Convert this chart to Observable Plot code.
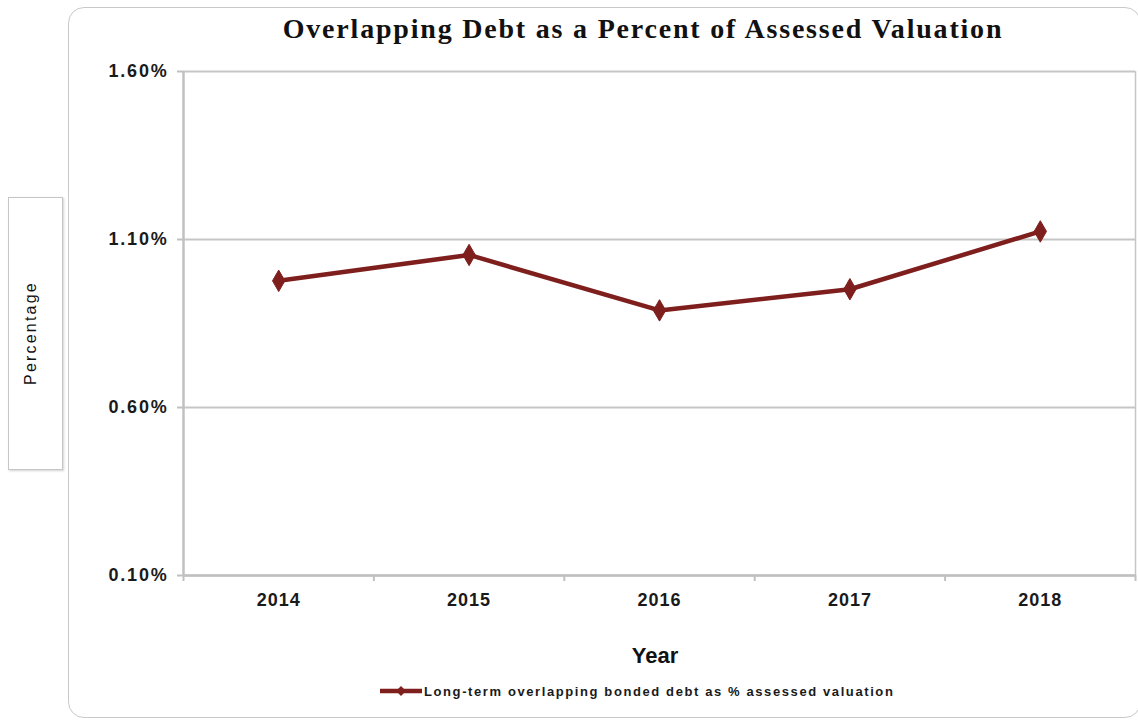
<!DOCTYPE html>
<html>
<head>
<meta charset="utf-8">
<script src="https://cdn.jsdelivr.net/npm/d3@7"></script>
<script src="https://cdn.jsdelivr.net/npm/@observablehq/plot@0.6"></script>
<style>
  html, body { margin: 0; padding: 0; background: #fff; width: 1138px; height: 723px; overflow: hidden; position: relative; }
  .abs { position: absolute; }
  #outer { left: 68px; top: 7px; width: 1073px; height: 711px; border: 1.5px solid #c9c9c9; border-radius: 16px; box-sizing: border-box; }
  #title { left: 643px; top: 14px; transform: translateX(-50%); white-space: nowrap; font-family: "Liberation Serif", "DejaVu Serif", serif; font-weight: bold; font-size: 28px; letter-spacing: 1.8px; line-height: 30px; color: #111; }
  #ybox { left: 8px; top: 197px; width: 55px; height: 273px; border: 1px solid #c6c6c6; box-sizing: border-box; box-shadow: 1px 1px 2px rgba(0,0,0,0.18); background: #fff; }
  #ylabel { left: 31px; top: 333px; transform: translate(-50%, -50%) rotate(-90deg); white-space: nowrap; font-family: "Liberation Sans", Arial, sans-serif; font-size: 16px; letter-spacing: 2.2px; color: #111; }
  #xlabel { left: 655px; top: 645px; transform: translateX(-50%); white-space: nowrap; font-family: "Liberation Sans", Arial, sans-serif; font-weight: bold; font-size: 22px; line-height: 22px; color: #111; }
  #legend { left: 380px; top: 683px; white-space: nowrap; font-family: "Liberation Sans", Arial, sans-serif; font-weight: bold; font-size: 13px; letter-spacing: 1.6px; color: #1a1a1a; display: flex; align-items: center; }
  #chart { left: 0; top: 0; }
</style>
</head>
<body>
<div id="outer" class="abs"></div>
<div id="chart" class="abs"></div>
<div id="title" class="abs">Overlapping Debt as a Percent of Assessed Valuation</div>
<div id="ybox" class="abs"></div>
<div id="ylabel" class="abs">Percentage</div>
<div id="xlabel" class="abs">Year</div>
<div id="legend" class="abs"></div>
<script>
// ---- data ----
const years = [2014, 2015, 2016, 2017, 2018];
const values = [0.977, 1.054, 0.889, 0.952, 1.124];
const yTicks = [0.10, 0.60, 1.10, 1.60];
const seriesName = "Long-term overlapping bonded debt as % assessed valuation";
const lineColor = "#7e1f1d";

const data = years.map((y, i) => ({year: y, value: values[i]}));
const bandEdges = years.map(y => y - 0.5).concat([years[years.length - 1] + 0.5]);
const xDomain = [bandEdges[0], bandEdges[bandEdges.length - 1]];
const yDomain = [yTicks[0], yTicks[yTicks.length - 1]];

const plot = Plot.plot({
  width: 1138,
  height: 723,
  marginLeft: 183,
  marginRight: 3,
  marginTop: 71,
  marginBottom: 148,
  style: {background: "transparent", fontFamily: "Liberation Sans, Arial, sans-serif", overflow: "visible"},
  x: {type: "linear", domain: xDomain},
  y: {domain: yDomain},
  marks: [
    Plot.gridY(yTicks, {stroke: "#c6c6c6", strokeOpacity: 1, strokeWidth: 2}),
    Plot.ruleX([xDomain[0]], {y1: yDomain[0], y2: yDomain[1], stroke: "#c0c0c0", strokeWidth: 2.5}),
    Plot.ruleX([xDomain[1]], {y1: yDomain[0], y2: yDomain[1], stroke: "#c6c6c6", strokeWidth: 1.5}),
    Plot.ruleY([yDomain[0]], {stroke: "#c0c0c0", strokeWidth: 2.5}),
    Plot.axisY({ticks: yTicks, tickSize: 6, tickPadding: 9, tickFormat: d => d.toFixed(2) + "%",
      stroke: "#c0c0c0", strokeWidth: 2, fill: "#1a1a1a", fontSize: 18, fontWeight: "bold", label: null, className: "yax"}),
    Plot.axisX({ticks: bandEdges, tickSize: 6, tickFormat: () => "", stroke: "#c0c0c0", strokeWidth: 2, label: null}),
    Plot.axisX({ticks: years, tickSize: 0, tickPadding: 18, tickFormat: d => String(d),
      fill: "#1a1a1a", fontSize: 18, fontWeight: "bold", label: null, className: "xax"}),
    Plot.line(data, {x: "year", y: "value", stroke: lineColor, strokeWidth: 4.5, strokeLinejoin: "round"}),
    Plot.dot(data, {x: "year", y: "value", symbol: "diamond", r: 6.5, fill: lineColor, stroke: lineColor, strokeWidth: 1})
  ]
});
document.getElementById("chart").appendChild(plot);
plot.querySelectorAll("text").forEach(t => t.setAttribute("letter-spacing", "1"));
plot.querySelectorAll(".yax text").forEach(t => t.setAttribute("letter-spacing", "1.8"));

// legend
const legend = document.getElementById("legend");
const ns = "http://www.w3.org/2000/svg";
const sw = document.createElementNS(ns, "svg");
sw.setAttribute("width", 42); sw.setAttribute("height", 16);
sw.style.marginRight = "2px";
const ln = document.createElementNS(ns, "line");
ln.setAttribute("x1", 0); ln.setAttribute("x2", 42); ln.setAttribute("y1", 8); ln.setAttribute("y2", 8);
ln.setAttribute("stroke", lineColor); ln.setAttribute("stroke-width", 4.5);
sw.appendChild(ln);
const dm = document.createElementNS(ns, "path");
dm.setAttribute("d", "M21,3 L26,8 L21,13 L16,8 Z");
dm.setAttribute("fill", lineColor);
sw.appendChild(dm);
legend.appendChild(sw);
const lt = document.createElement("span");
lt.textContent = seriesName;
legend.appendChild(lt);
</script>
</body>
</html>
